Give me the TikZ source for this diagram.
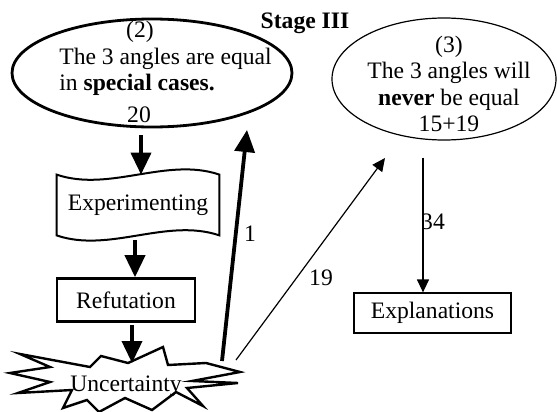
\documentclass[tikz,border=0pt]{standalone}
\usepackage{fontspec}
\setmainfont{Liberation Serif}
\usetikzlibrary{arrows.meta}
\usetikzlibrary{shapes.geometric}

\begin{document}
\begin{tikzpicture}[x=0.5pt,y=-0.5pt,
  every node/.style={font=\fontsize{11.8}{13.3}\selectfont,inner sep=0pt},
  fat/.style={line width=1.9pt,-{Triangle[length=11pt,width=10pt]}},
  slim/.style={line width=0.6pt,-{Triangle[length=6.5pt,width=6pt]}}]
  \useasboundingbox (0,0) rectangle (557,412);
  \node[font=\fontsize{11.8}{13}\selectfont\bfseries] (stage) at (305,23) {Stage III};
  % the two claims
  \node[draw,ellipse,line width=1.4pt,minimum width=140pt,minimum height=54pt] (special) at (152,73) {};
  \node (n2) at (140,32) {(2)};
  \node[align=left,anchor=west] (claim2) at (59,72) {The 3 angles are equal\\in \textbf{special cases.}};
  \node (n20) at (139,115) {20};
  \node[draw,ellipse,line width=0.6pt,minimum width=112pt,minimum height=61pt] (never) at (444,79) {};
  \node[align=center] (claim3) at (449,84) {(3)\\The 3 angles will\\\textbf{never} be equal\\15+19};
  % left column
  \node[minimum width=81pt,minimum height=30pt] (expt) at (138,205) {Experimenting};
  \draw[line width=1pt] (expt.north west) .. controls +(53,18) and +(-53,-18) .. (expt.north east)
    -- (expt.south east) .. controls +(-53,-18) and +(53,18) .. (expt.south west) -- cycle;
  \node[draw,line width=1.3pt,minimum width=69pt,minimum height=21.5pt] (refu) at (126,300) {Refutation};
  \draw[line width=1.2pt] (20,354) -- (90,367) -- (101,356) -- (128,363) -- (163,347) -- (168,365)
    -- (206,363) -- (240,372) -- (192,381) -- (238,383) -- (187,388) -- (203,406) -- (176,392)
    -- (152,410) -- (125,398) -- (99,412) -- (87,400) -- (63,408) -- (72,390) -- (18,393)
    -- (50,382) -- (10,373) -- (50,367) -- cycle;
  \node (unc) at (126,386) {Uncertainty};
  \coordinate (burst) at (132,363);
  \coordinate (burst1) at (222,361);
  \coordinate (burst19) at (236,360);
  \coordinate (tip1) at (247,130);
  \coordinate (tip19) at (385,158);
  % right column
  \node[draw,line width=0.6pt,minimum width=78.5pt,minimum height=20pt] (expl) at (432.5,313) {Explanations};
  % arrows
  \draw[fat] ([xshift=-5.5pt,yshift=-3.5pt]special.south) -- ([xshift=1.5pt]expt.north);
  \draw[fat] ([xshift=-1.5pt,yshift=-2.5pt]expt.south) -- ([xshift=4.5pt]refu.north);
  \draw[fat] ([xshift=3pt,yshift=-1pt]refu.south) -- (burst);
  \draw[fat] (burst1) -- (tip1);
  \draw[slim] (burst19) -- (tip19);
  \draw[slim] ([xshift=-10.5pt,yshift=-8.5pt]never.south) -- ([xshift=-4.75pt]expl.north);
  \node (lab1) at (250,234) {1};
  \node (lab19) at (321,278) {19};
  \node (lab34) at (433,222) {34};
\end{tikzpicture}
\end{document}
